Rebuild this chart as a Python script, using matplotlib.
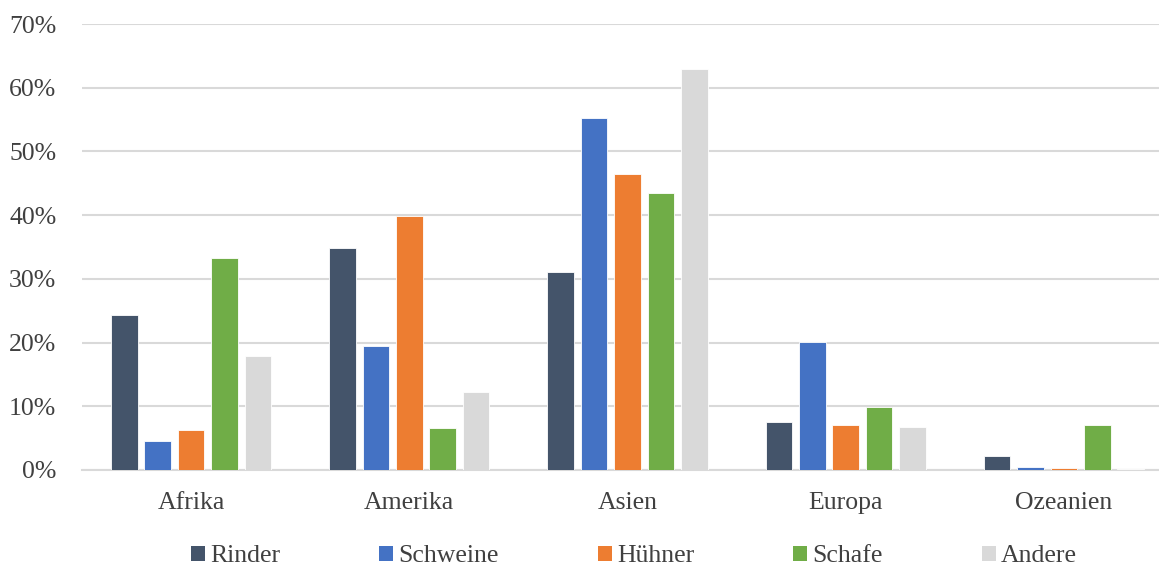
import numpy as np
import matplotlib
matplotlib.use('Agg')
import matplotlib.pyplot as plt
from matplotlib.patches import Patch

plt.rcParams['font.family'] = ['Liberation Serif', 'DejaVu Serif']

regions = ['Afrika', 'Amerika', 'Asien', 'Europa', 'Ozeanien']
series = ['Rinder', 'Schweine', 'Hühner', 'Schafe', 'Andere']
rinder = [24.3, 34.9, 31.1, 7.6, 2.2]
schweine = [4.6, 19.5, 55.3, 20.1, 0.5]
huehner = [6.3, 39.8, 46.5, 7.1, 0.35]
schafe = [33.2, 6.6, 43.4, 9.9, 7.1]
andere = [17.9, 12.2, 63.0, 6.8, 0.15]
yticks = [0, 10, 20, 30, 40, 50, 60, 70]

values = [rinder, schweine, huehner, schafe, andere]
colors = ['#44546A', '#4472C4', '#ED7D31', '#70AD47', '#D9D9D9']
text_color = '#404040'

fig = plt.figure(figsize=(11.59, 5.66), dpi=100)
# plot area runs a little past the right edge of the canvas
ax = fig.add_axes([82 / 1159, 1 - 470 / 566, (1173 - 82) / 1159, (470 - 24) / 566])

x = np.arange(len(regions))
width = 0.122
step = 0.153
for i, (vals, col) in enumerate(zip(values, colors)):
    ax.bar(x + (i - 2) * step, vals, width, color=col, edgecolor='white',
           linewidth=0.6, zorder=3)

ax.set_xlim(-0.5, len(regions) - 0.5)
ax.set_ylim(0, 70)
ax.set_yticks(yticks)
ax.set_yticklabels([f'{t}%' for t in yticks])
ax.set_xticks(x)
ax.set_xticklabels(regions)
ax.yaxis.grid(True, color='#D9D9D9', linewidth=1.5, zorder=0)
ax.set_axisbelow(True)
for s in ['top', 'right', 'left']:
    ax.spines[s].set_visible(False)
ax.spines['bottom'].set_color('#D9D9D9')
ax.spines['bottom'].set_linewidth(1.5)
ax.tick_params(axis='both', length=0, labelsize=18.5, colors=text_color)
ax.tick_params(axis='y', pad=18.5)
ax.tick_params(axis='x', pad=16)

handles = [Patch(facecolor=c, edgecolor='none') for c in colors]
fig.legend(handles, series, loc='center', bbox_to_anchor=(0.547, 0.017),
           ncol=5, frameon=False, fontsize=18.5, handlelength=0.55,
           handleheight=0.55, handletextpad=0.2, columnspacing=3.85,
           labelcolor=text_color)

fig.savefig('out.png', dpi=100)
